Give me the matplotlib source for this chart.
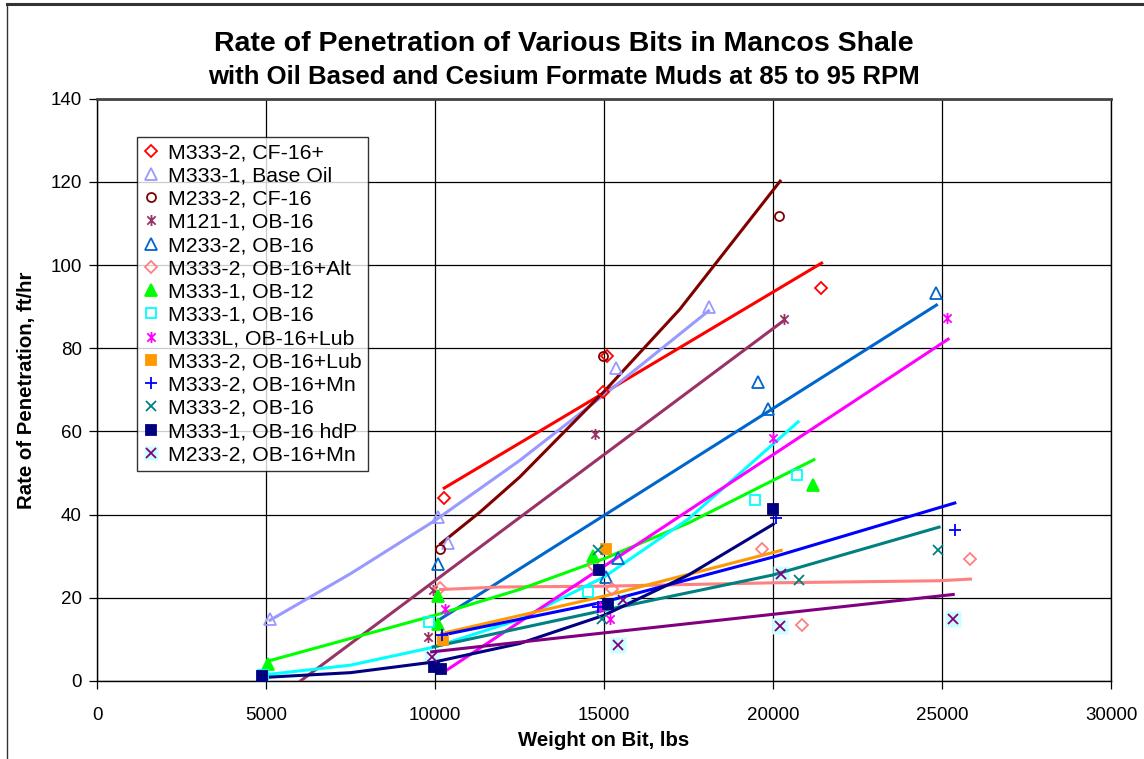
import matplotlib
matplotlib.use("Agg")
import matplotlib.pyplot as plt
from matplotlib.path import Path
from matplotlib.legend_handler import HandlerTuple
from matplotlib.lines import Line2D

plt.rcParams['font.family'] = ['Liberation Sans', 'DejaVu Sans']

# measured points (weight on bit lbs, ROP ft/hr) for each bit / mud
labels = ["M333-2, CF-16+", "M333-1, Base Oil", "M233-2, CF-16", "M121-1, OB-16",
          "M233-2, OB-16", "M333-2, OB-16+Alt", "M333-1, OB-12", "M333-1, OB-16",
          "M333L, OB-16+Lub", "M333-2, OB-16+Lub", "M333-2, OB-16+Mn", "M333-2, OB-16",
          "M333-1, OB-16 hdP", "M233-2, OB-16+Mn"]

wob = [
    [10270, 14970, 15100, 21430],
    [5117, 10077, 10373, 15350, 18100],
    [10136, 14975, 20190],
    [9800, 9938, 14730, 20310],
    [10096, 15055, 15400, 19560, 19841, 24825],
    [10160, 14710, 15224, 19669, 20858, 25821],
    [5067, 10096, 10096, 14680, 21190],
    [4900, 9820, 14532, 19462, 20718],
    [10293, 14877, 15173, 19988, 25161],
    [10243, 15055],
    [10195, 14828, 20089, 25377],
    [14828, 14927, 20769, 24884],
    [4871, 9968, 10166, 14847, 15123, 20008],
    [9900, 15400, 15567, 20210, 20240, 25310],
]
rop = [
    [43.9, 69.6, 78.1, 94.4],
    [15.0, 39.4, 33.3, 75.2, 90.0],
    [31.8, 78.1, 111.9],
    [10.6, 21.8, 59.4, 87.1],
    [28.2, 25.0, 29.5, 71.8, 65.3, 93.4],
    [22.3, 27.6, 22.0, 31.7, 13.5, 29.4],
    [4.2, 20.4, 13.8, 30.0, 47.1],
    [1.4, 14.1, 21.3, 43.6, 49.5],
    [17.2, 17.8, 14.8, 58.4, 87.2],
    [9.8, 31.8],
    [11.0, 17.8, 39.3, 36.4],
    [31.6, 14.8, 24.4, 31.6],
    [1.2, 3.3, 2.8, 26.8, 18.5, 41.3],
    [5.8, 8.6, 19.4, 13.2, 25.8, 14.9],
]

# trendlines for each series
trend_x = [
    [10273, 15000, 21437],
    [5117, 7500, 10000, 12500, 15000, 18092],
    [10166, 11328, 12500, 15000, 17243, 20210],
    [6020, 20290],
    [10080, 24834],
    [10166, 11920, 15000, 20000, 24900, 25841],
    [5067, 10000, 12500, 15000, 17500, 21207],
    [4871, 7500, 10000, 12500, 15000, 17500, 20740],
    [10343, 25180],
    [10195, 15000, 20240],
    [10195, 15000, 20000, 25377],
    [9947, 15000, 20000, 24913],
    [4820, 7500, 10000, 12500, 15000, 17500, 20008],
    [9900, 25330],
]
trend_y = [
    [46.4, 69.3, 100.5],
    [14.6, 25.8, 38.6, 53.0, 68.8, 89.0],
    [33.0, 40.6, 49.0, 69.6, 89.4, 120.2],
    [0.0, 86.5],
    [14.5, 90.4],
    [22.0, 22.6, 22.8, 23.6, 24.1, 24.5],
    [4.8, 15.8, 22.0, 29.4, 38.0, 53.2],
    [1.4, 3.8, 8.2, 14.8, 25.0, 39.0, 62.3],
    [2.6, 82.2],
    [11.4, 20.4, 31.4],
    [11.0, 19.0, 29.8, 42.8],
    [8.2, 17.0, 25.5, 37.0],
    [0.8, 2.0, 4.6, 9.0, 15.8, 25.5, 37.7],
    [7.0, 20.8],
]

colors = ["#FF0000", "#9999FF", "#800000", "#993366", "#0066CC", "#FF8080", "#00FF00",
          "#00FFFF", "#FF00FF", "#FF9900", "#0000FF", "#008080", "#000080", "#800080"]

star = Path([(0, -1), (0, 1), (-0.75, -0.75), (0.75, 0.75), (-0.75, 0.75), (0.75, -0.75)],
            [Path.MOVETO, Path.LINETO] * 3)
markers = ['D', '^', 'o', star, '^', 'D', '^', 's', star, 's', '+', 'x', 's', 'x']
filled = [False, False, False, False, False, False, True, False, False, True, False, False, True, False]
msizes = [6, 8, 6.5, 8, 8, 6, 8, 6.5, 8, 7, 8, 7, 7, 7.5]

fig = plt.figure(figsize=(11.44, 7.59), dpi=100)
ax = fig.add_axes([0.0848, 0.1028, 0.8864, 0.767])

handles = []
for i in range(len(labels)):
    ax.plot(trend_x[i], trend_y[i], color=colors[i], lw=2.2, zorder=3)
    if i == 13:
        ax.plot(wob[i], rop[i], linestyle='none', marker='s', ms=11, mfc='#CCFFFF', mec='none', zorder=2)
    fc = colors[i] if filled[i] else 'none'
    h, = ax.plot(wob[i], rop[i], linestyle='none', marker=markers[i], ms=msizes[i],
                 mfc=fc, mec=colors[i], mew=1.3, zorder=4)
    if i == 13:
        bg = Line2D([], [], linestyle='none', marker='s', ms=10, mfc='#CCFFFF', mec='none')
        handles.append((bg, h))
    else:
        handles.append(h)

ax.set_xlim(0, 30000)
ax.set_ylim(0, 140)
ax.set_xticks(range(0, 30001, 5000))
ax.set_yticks(range(0, 141, 20))
ax.grid(True, color='black', lw=0.9)
ax.set_axisbelow(True)
ax.tick_params(direction='out', length=6, width=0.9, labelsize=13.5)
ax.tick_params(axis='x', pad=13)
ax.tick_params(axis='y', pad=5)
for s in ax.spines.values():
    s.set_color('black')
    s.set_linewidth(1.0)
ax.spines['top'].set_linewidth(2.0)
ax.spines['top'].set_color('#444444')

ax.set_xlabel("Weight on Bit, lbs", fontsize=14.7, fontweight='bold', labelpad=5)
ax.set_ylabel("Rate of Penetration, ft/hr", fontsize=14.7, fontweight='bold', labelpad=10)

fig.text(0.493, 0.942, "Rate of Penetration of Various Bits in Mancos Shale",
         ha='center', va='center', fontsize=20.5, fontweight='bold')
fig.text(0.493, 0.898, "with Oil Based and Cesium Formate Muds at 85 to 95 RPM",
         ha='center', va='center', fontsize=18.5, fontweight='bold')

leg = ax.legend(handles, labels, loc='upper left', bbox_to_anchor=(0.0394, 0.935),
                borderaxespad=0, fontsize=15.3, labelspacing=0.2, handlelength=0.7,
                handletextpad=0.45, borderpad=0.3, frameon=True, fancybox=False,
                handler_map={tuple: HandlerTuple(ndivide=1, pad=0)})
leg.get_frame().set_edgecolor('black')
leg.get_frame().set_linewidth(1.0)

# outer chart border
fig.add_artist(Line2D([0.006, 1.0], [0.995, 0.995], transform=fig.transFigure, color='#333333', lw=2.2))
fig.add_artist(Line2D([0.006, 0.006], [0.0, 0.995], transform=fig.transFigure, color='#333333', lw=1.0))

fig.savefig("out.png", dpi=100)
